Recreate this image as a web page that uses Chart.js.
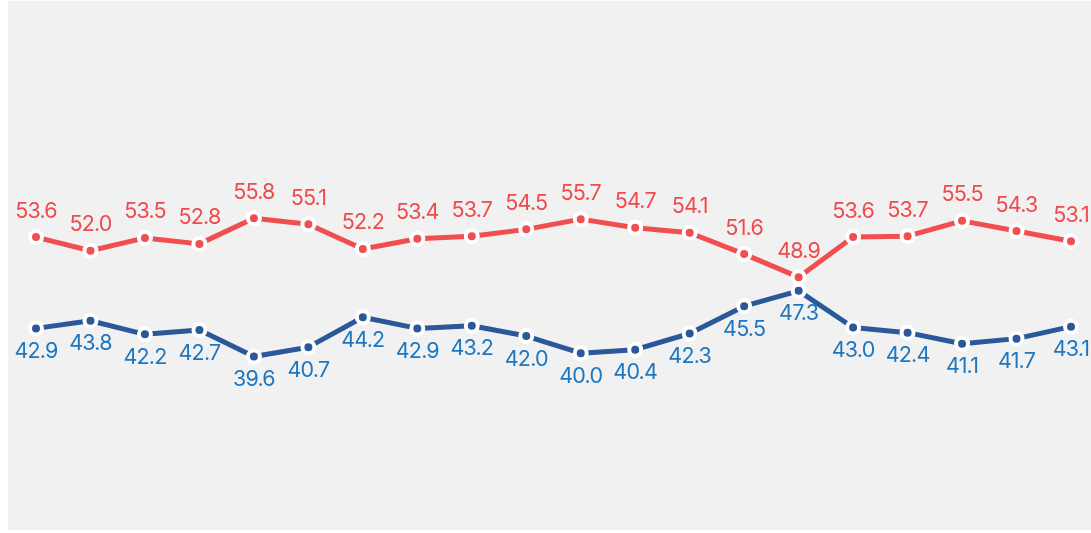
<!DOCTYPE html>
<html>
<head>
<meta charset="utf-8">
<script src="https://cdn.jsdelivr.net/npm/chart.js@4/dist/chart.umd.min.js"></script>
<style>
  html, body { margin: 0; padding: 0; background: #ffffff; }
  #wrap { width: 1091px; height: 533px; }
</style>
</head>
<body>
<div id="wrap"><canvas id="c" width="1091" height="533"></canvas></div>
<script>
const categories = ['1','2','3','4','5','6','7','8','9','10','11','12','13','14','15','16','17','18','19','20'];
const redValues  = [53.6, 52.0, 53.5, 52.8, 55.8, 55.1, 52.2, 53.4, 53.7, 54.5, 55.7, 54.7, 54.1, 51.6, 48.9, 53.6, 53.7, 55.5, 54.3, 53.1];
const blueValues = [42.9, 43.8, 42.2, 42.7, 39.6, 40.7, 44.2, 42.9, 43.2, 42.0, 40.0, 40.4, 42.3, 45.5, 47.3, 43.0, 42.4, 41.1, 41.7, 43.1];

const RED_LINE = '#f14e50';
const RED_TEXT = '#ef4b4d';
const BLUE_LINE = '#2b5899';
const BLUE_TEXT = '#1d77c0';

const bgPlugin = {
  id: 'bg',
  beforeDraw(chart) {
    const ctx = chart.ctx;
    ctx.save();
    ctx.fillStyle = '#ffffff';
    ctx.fillRect(0, 0, chart.width, chart.height);
    ctx.fillStyle = '#f1f1f1';
    ctx.fillRect(8, 1, chart.width - 8, 529);
    ctx.restore();
  }
};

const labelPlugin = {
  id: 'valueLabels',
  afterDatasetsDraw(chart) {
    const ctx = chart.ctx;
    ctx.save();
    ctx.font = '400 21.5px Inter, "Noto Sans", sans-serif';
    if ('letterSpacing' in ctx) ctx.letterSpacing = '-0.8px';
    ctx.textAlign = 'center';
    ctx.textBaseline = 'middle';
    chart.data.datasets.forEach((ds, i) => {
      const meta = chart.getDatasetMeta(i);
      meta.data.forEach((pt, j) => {
        const v = ds.data[j];
        ctx.fillStyle = ds.labelColor;
        ctx.fillText(v.toFixed(1), pt.x, pt.y + ds.labelOffset);
      });
    });
    ctx.restore();
  }
};

new Chart(document.getElementById('c'), {
  type: 'line',
  data: {
    labels: categories,
    datasets: [
      {
        data: redValues,
        borderColor: RED_LINE,
        backgroundColor: RED_LINE,
        borderWidth: 5,
        pointRadius: 6,
        pointBorderWidth: 4,
        pointBackgroundColor: RED_LINE,
        pointBorderColor: '#ffffff',
        tension: 0,
        labelColor: RED_TEXT,
        labelOffset: -26
      },
      {
        data: blueValues,
        borderColor: BLUE_LINE,
        backgroundColor: BLUE_LINE,
        borderWidth: 5,
        pointRadius: 6,
        pointBorderWidth: 4,
        pointBackgroundColor: BLUE_LINE,
        pointBorderColor: '#ffffff',
        tension: 0,
        labelColor: BLUE_TEXT,
        labelOffset: 23
      }
    ]
  },
  options: {
    responsive: false,
    animation: false,
    devicePixelRatio: 1,
    layout: { padding: { left: 36, right: 20, top: 0, bottom: 0 } },
    plugins: { legend: { display: false }, tooltip: { enabled: false } },
    scales: {
      x: { display: false, offset: false },
      y: { display: false, min: 20.1, max: 80.2 }
    },
    elements: { line: { borderJoinStyle: 'round', borderCapStyle: 'round' } }
  },
  plugins: [bgPlugin, labelPlugin]
});
</script>
</body>
</html>
